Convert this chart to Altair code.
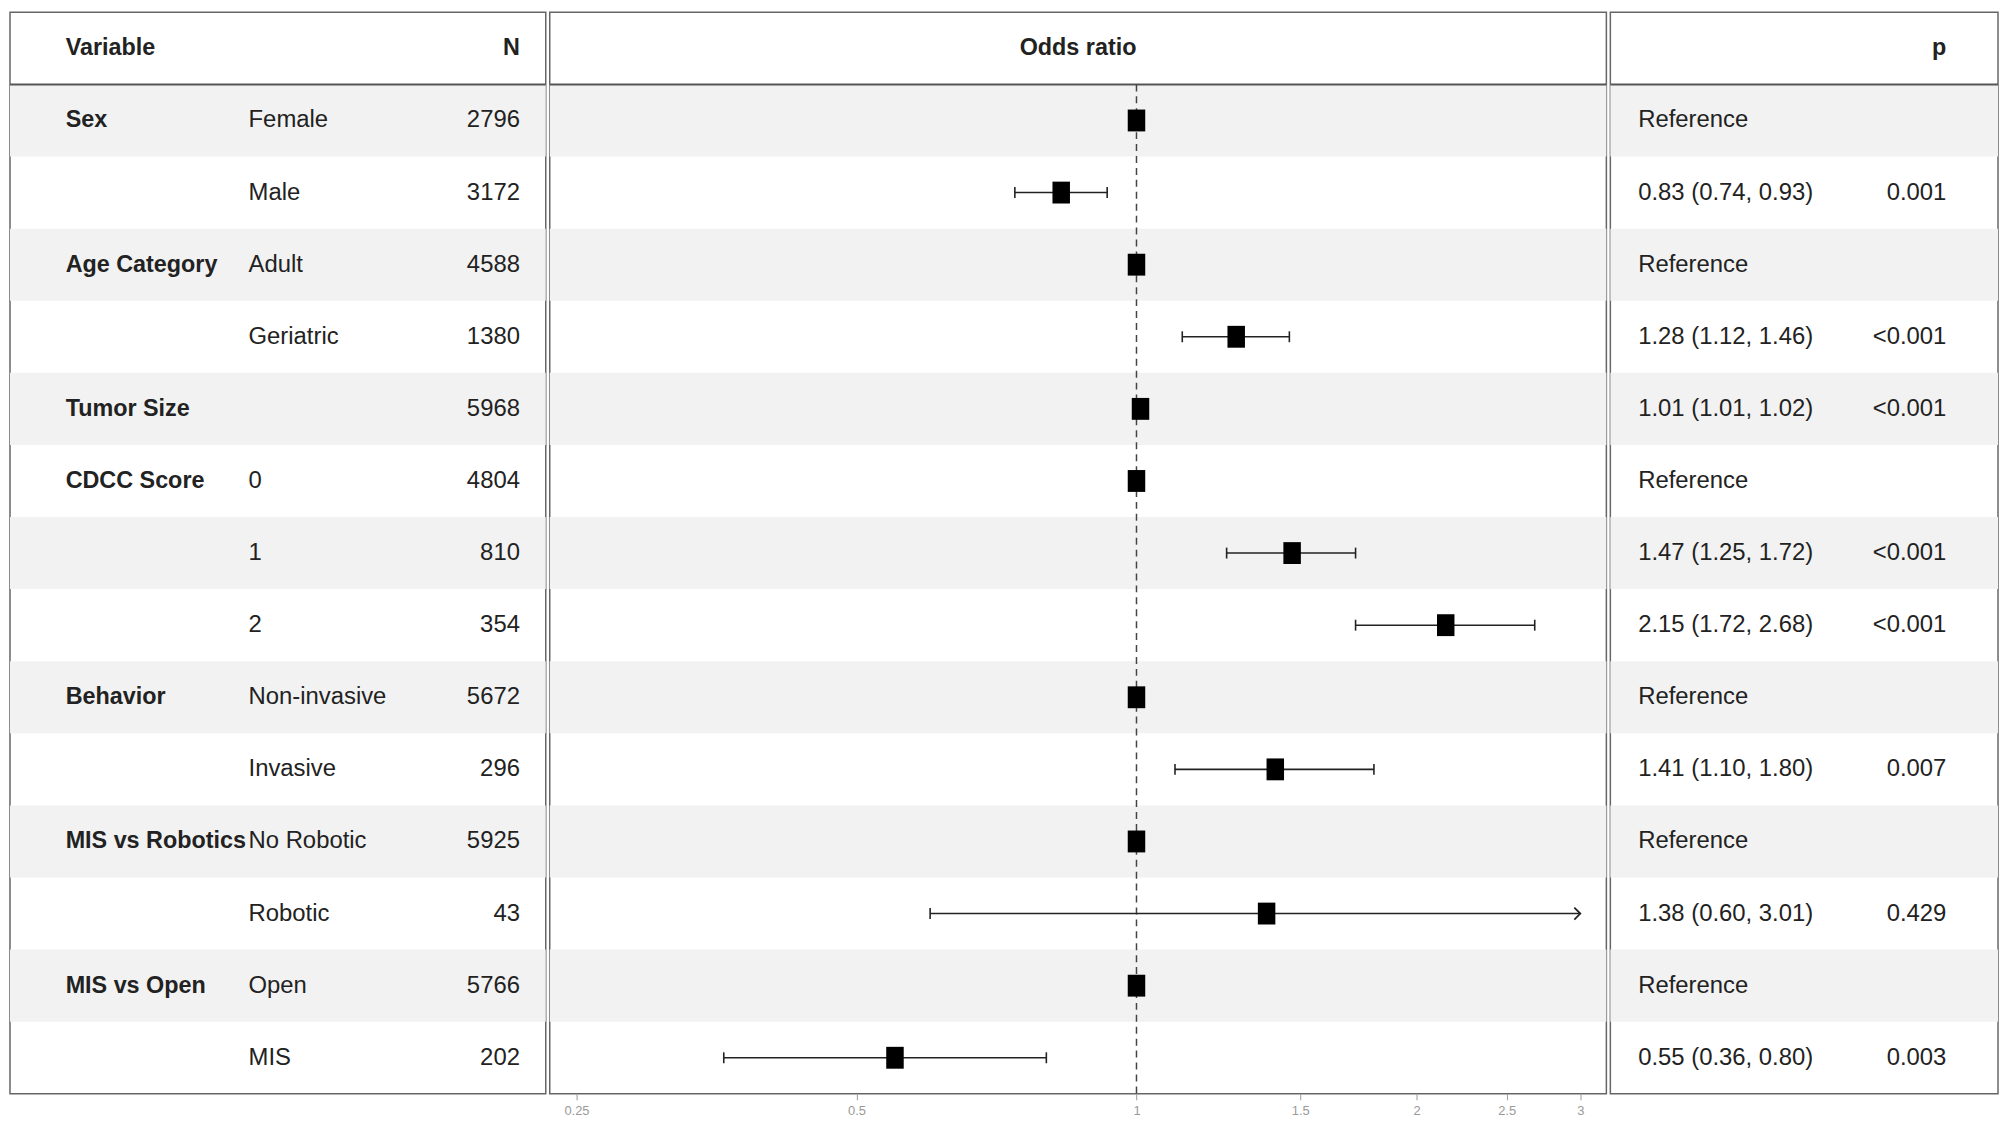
import altair as alt
import pandas as pd

# ---------------- data ----------------
header_labels = ["Variable", "N", "Odds ratio", "p"]
variable = ["Sex", "", "Age Category", "", "Tumor Size", "CDCC Score", "", "",
            "Behavior", "", "MIS vs Robotics", "", "MIS vs Open", ""]
level = ["Female", "Male", "Adult", "Geriatric", "", "0", "1", "2",
         "Non-invasive", "Invasive", "No Robotic", "Robotic", "Open", "MIS"]
n_count = [2796, 3172, 4588, 1380, 5968, 4804, 810, 354, 5672, 296, 5925, 43, 5766, 202]
odds_ratio = [1, 0.83, 1, 1.28, 1.01, 1, 1.47, 2.15, 1, 1.41, 1, 1.38, 1, 0.55]
ci_low = [None, 0.74, None, 1.12, 1.01, None, 1.25, 1.72, None, 1.10, None, 0.60, None, 0.36]
ci_high = [None, 0.93, None, 1.46, 1.02, None, 1.72, 2.68, None, 1.80, None, 3.01, None, 0.80]
or_label = ["Reference", "0.83 (0.74, 0.93)", "Reference", "1.28 (1.12, 1.46)",
            "1.01 (1.01, 1.02)", "Reference", "1.47 (1.25, 1.72)", "2.15 (1.72, 2.68)",
            "Reference", "1.41 (1.10, 1.80)", "Reference", "1.38 (0.60, 3.01)",
            "Reference", "0.55 (0.36, 0.80)"]
p_label = ["", "0.001", "", "<0.001", "<0.001", "", "<0.001", "<0.001",
           "", "0.007", "", "0.429", "", "0.003"]
x_ticks = [0.25, 0.5, 1, 1.5, 2, 2.5, 3]
x_domain = [0.234, 3.2]
clip_max = 3

df = pd.DataFrame({
    "row": list(range(1, len(level) + 1)),
    "variable": variable,
    "level": level,
    "n": [str(v) for v in n_count],
    "odds_ratio": odds_ratio,
    "ci_low": ci_low,
    "ci_high": ci_high,
    "or_label": or_label,
    "p_label": p_label,
})
hdr = pd.DataFrame({"row": [0]})

# ---------------- layout / style ----------------
FONT = "'Liberation Sans Narrow', 'Arial Narrow', 'Liberation Sans', Arial, sans-serif"
FS = 24
FS_B = 23.5
TXT = "#222222"
W_L, W_M, W_R = 539, 1063, 390
N_ROWS = 15
H = 1088

yscale = alt.Scale(domain=[0, N_ROWS], reverse=True, nice=False, zero=False)
Y_C = alt.Y("yc:Q", scale=yscale, axis=None)

base = alt.Chart(df).transform_calculate(
    yc="datum.row + 0.5", ytop="datum.row", ybot="datum.row + 1"
)
hbase = alt.Chart(hdr).transform_calculate(
    yc="datum.row + 0.5", ybot="datum.row + 1"
)


def background(width):
    return base.transform_filter("datum.row % 2 == 1").mark_rect(
        color="#f2f2f2"
    ).encode(
        x=alt.value(0), x2=alt.value(width),
        y=alt.Y("ytop:Q", scale=yscale, axis=None), y2="ybot:Q",
    )


def header_rule(width):
    return hbase.mark_rule(color="#555555", strokeWidth=2).encode(
        x=alt.value(0), x2=alt.value(width),
        y=alt.Y("ybot:Q", scale=yscale, axis=None),
    )


def header_text(label, xpos, align):
    return hbase.mark_text(
        font=FONT, fontSize=FS_B, fontWeight="bold", color=TXT,
        align=align, baseline="middle",
    ).encode(x=alt.value(xpos), y=Y_C, text=alt.value(label))


def column_text(field, xpos, align, bold=False):
    return base.mark_text(
        font=FONT, fontSize=FS_B if bold else FS,
        fontWeight="bold" if bold else "normal",
        color=TXT, align=align, baseline="middle",
    ).encode(x=alt.value(xpos), y=Y_C, text=f"{field}:N")


# ---------------- left table ----------------
left = alt.layer(
    background(W_L),
    header_rule(W_L),
    header_text(header_labels[0], 56, "left"),
    header_text(header_labels[1], 513, "right"),
    column_text("variable", 56, "left", bold=True),
    column_text("level", 240, "left"),
    column_text("n", 513, "right"),
).properties(width=W_L, height=H)

# ---------------- forest plot ----------------
xscale = alt.Scale(type="log", domain=x_domain, nice=False, zero=False)
xaxis = alt.Axis(
    values=x_ticks, format="~g", title=None, grid=False, domain=False,
    ticks=True, tickColor="#999999", tickSize=6, tickWidth=1,
    labelColor="#9a9a9a", labelFont=FONT, labelFontSize=13, labelPadding=5,
)

ref_line = alt.Chart(pd.DataFrame({"ref": [1]})).mark_rule(
    color="#444444", strokeWidth=1.5, strokeDash=[7, 5]
).encode(
    x=alt.X("ref:Q", scale=xscale, axis=xaxis),
    y=alt.YDatum(1, scale=yscale, axis=None),
    y2=alt.Y2Datum(N_ROWS),
)

ci = base.transform_filter("isValid(datum.ci_low)")
bars = ci.transform_calculate(
    hi_clip=f"min(datum.ci_high, {clip_max})"
).mark_rule(color=TXT, strokeWidth=1.6).encode(
    x=alt.X("ci_low:Q", scale=xscale, axis=xaxis), x2="hi_clip:Q", y=Y_C
)
cap_lo = ci.mark_point(
    shape="M0,-1V1", size=121, filled=False, stroke=TXT, strokeWidth=1.6, opacity=1
).encode(x=alt.X("ci_low:Q", scale=xscale, axis=xaxis), y=Y_C)
cap_hi = ci.transform_filter(f"datum.ci_high <= {clip_max}").mark_point(
    shape="M0,-1V1", size=121, filled=False, stroke=TXT, strokeWidth=1.6, opacity=1
).encode(x=alt.X("ci_high:Q", scale=xscale, axis=xaxis), y=Y_C)
arrow = ci.transform_filter(f"datum.ci_high > {clip_max}").transform_calculate(
    hi_clip=f"min(datum.ci_high, {clip_max})"
).mark_point(
    shape="M-1,-1L0,0L-1,1", size=144, filled=False, stroke=TXT,
    strokeWidth=1.8, opacity=1
).encode(x=alt.X("hi_clip:Q", scale=xscale, axis=xaxis), y=Y_C)
squares = base.mark_point(
    shape="M-0.8,-1H0.8V1H-0.8Z", size=484, filled=True, color="black", opacity=1
).encode(x=alt.X("odds_ratio:Q", scale=xscale, axis=xaxis), y=Y_C)

middle = alt.layer(
    background(W_M),
    header_rule(W_M),
    header_text(header_labels[2], W_M / 2, "center"),
    ref_line,
    bars,
    cap_lo,
    cap_hi,
    arrow,
    squares,
).properties(width=W_M, height=H)

# ---------------- right table ----------------
right = alt.layer(
    background(W_R),
    header_rule(W_R),
    header_text(header_labels[3], 338, "right"),
    column_text("or_label", 28, "left"),
    column_text("p_label", 338, "right"),
).properties(width=W_R, height=H)

chart = alt.hconcat(left, middle, right, spacing=0).properties(
    padding={"left": 0, "top": 0, "right": 0, "bottom": 0}
).configure_view(stroke="#666666", strokeWidth=1.5)

chart.save("out.html", embed_options={"renderer": "svg", "actions": False})
